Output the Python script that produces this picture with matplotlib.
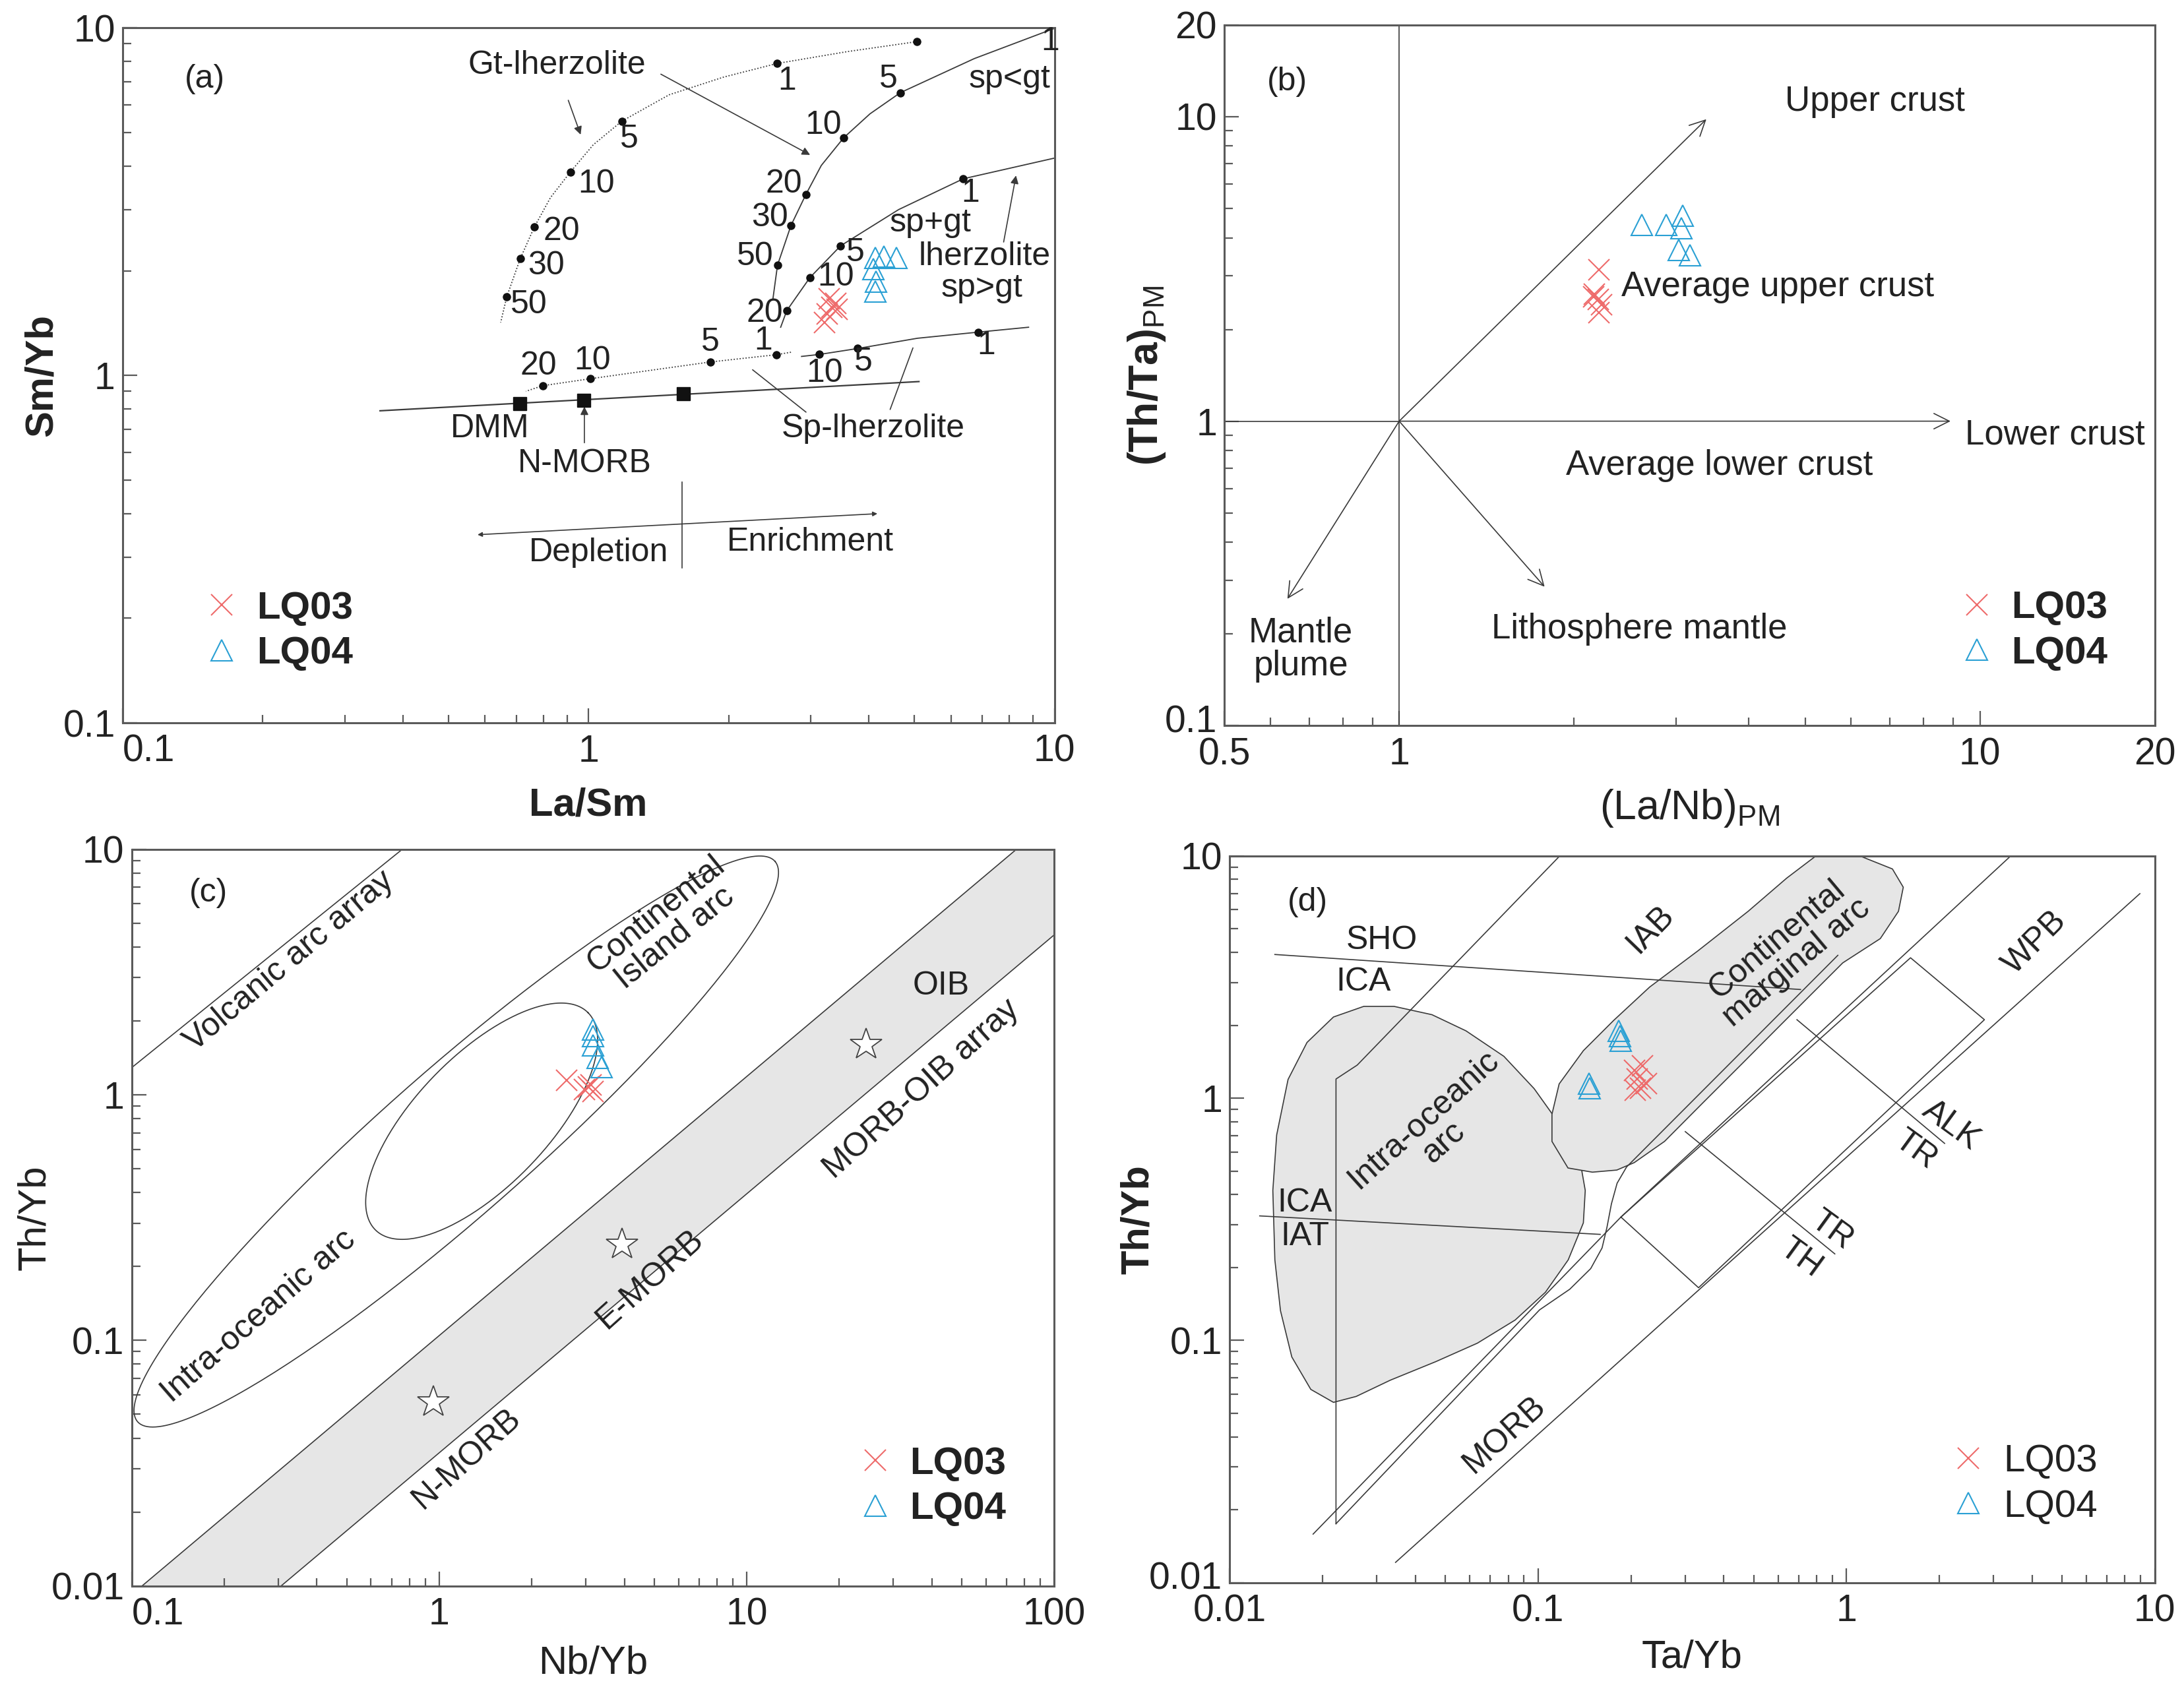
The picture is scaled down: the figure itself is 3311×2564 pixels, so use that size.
import numpy as np
import matplotlib
matplotlib.use("Agg")
import matplotlib.pyplot as plt
from matplotlib.patches import FancyArrowPatch
from matplotlib.transforms import ScaledTranslation
from matplotlib.ticker import FixedLocator, FixedFormatter, LogLocator, NullFormatter

plt.rcParams['font.family'] = ['Liberation Sans', 'DejaVu Sans']
plt.rcParams['mathtext.fontset'] = 'custom'
plt.rcParams['mathtext.rm'] = 'Liberation Sans'
plt.rcParams['font.size'] = 36

LINE = '#3a3a3a'
SPINE = '#5a5a5a'
RED = '#ee6b6b'
BLUE = '#2aa0d4'
GREY = '#e6e6e6'
TXT = 36      # annotation text
NUM = 36      # melting-degree numbers
LEG = 42
LAB = 43

# ---------------- (a) La/Sm vs Sm/Yb ----------------
gt_batch_x = [5.07, 3.60, 2.54, 1.951, 1.490, 1.179, 1.024, 0.9145, 0.829, 0.766, 0.714, 0.668, 0.648]
gt_batch_y = [9.13, 8.55, 7.90, 7.22, 6.42, 5.39, 4.61, 3.85, 3.25, 2.68, 2.17, 1.686, 1.42]
gt_batch_dot_x = [5.07, 2.54, 1.179, 0.9145, 0.766, 0.714, 0.668]
gt_batch_dot_y = [9.13, 7.90, 5.39, 3.85, 2.68, 2.17, 1.686]

gt_frac_x = [9.96, 6.73, 4.67, 4.02, 3.53, 3.16, 2.926, 2.72, 2.545, 2.487]
gt_frac_y = [9.95, 8.16, 6.51, 5.66, 4.83, 4.02, 3.31, 2.70, 2.076, 1.654]
gt_frac_dot_x = [4.67, 3.53, 2.926, 2.72, 2.545]
gt_frac_dot_y = [6.51, 4.83, 3.31, 2.70, 2.076]

spgt_x = [10.0, 6.375, 4.63, 3.476, 2.987, 2.665, 2.585]
spgt_y = [4.22, 3.68, 3.00, 2.36, 1.912, 1.537, 1.376]
spgt_dot_x = [6.375, 3.476, 2.987, 2.665]
spgt_dot_y = [3.68, 2.36, 1.912, 1.537]

sp_frac_x = [8.80, 6.86, 5.08, 3.78, 3.13, 2.866]
sp_frac_y = [1.376, 1.332, 1.279, 1.195, 1.149, 1.134]
sp_frac_dot_x = [6.86, 3.78, 3.13]
sp_frac_dot_y = [1.332, 1.195, 1.149]

sp_batch_x = [2.72, 2.53, 1.825, 1.008, 0.797, 0.734]
sp_batch_y = [1.166, 1.147, 1.093, 0.978, 0.934, 0.900]
sp_batch_dot_x = [2.53, 1.825, 1.008, 0.797]
sp_batch_dot_y = [1.147, 1.093, 0.978, 0.934]

mix_x = [0.357, 5.12]
mix_y = [0.791, 0.960]
source_x = [0.711, 0.978, 1.60]
source_y = [0.830, 0.846, 0.886]

a_lq03_x = [3.21, 3.28, 3.39, 3.42, 3.33, 3.25]
a_lq03_y = [1.42, 1.66, 1.61, 1.55, 1.57, 1.50]
a_lq04_x = [4.12, 4.30, 4.58, 4.08, 4.14, 4.13]
a_lq04_y = [2.18, 2.20, 2.18, 2.02, 1.86, 1.74]

# ---------------- (b) (La/Nb)PM vs (Th/Ta)PM ----------------
b_origin = (1.0, 1.0)
b_tips = {'upper': (3.38, 9.8), 'lower': (8.9, 1.0), 'plume': (0.642, 0.261), 'litho': (1.78, 0.286)}
b_lq03_x = [2.21, 2.17, 2.20, 2.16, 2.23, 2.21]
b_lq03_y = [3.14, 2.61, 2.51, 2.56, 2.41, 2.27]
b_lq04_x = [2.62, 2.88, 3.08, 3.06, 3.03, 3.17]
b_lq04_y = [4.41, 4.41, 4.72, 4.31, 3.65, 3.51]

# ---------------- (c) Nb/Yb vs Th/Yb ----------------
arc_array_x = [0.1, 0.759]
arc_array_y = [1.29, 10.0]
band_upper_x = [0.108, 75.4]
band_upper_y = [0.01, 10.0]
band_lower_x = [0.306, 100.0]
band_lower_y = [0.01, 4.48]
# field ellipses in log10 units: centre, semi-diameter A, conjugate semi-diameter B
big_arc_field = {'c': (0.0555, -0.1902), 'A': (1.037, 1.140), 'B': (0.151, -0.228)}
small_arc_field = {'c': (0.138, -0.1075), 'A': (0.346, 0.442), 'B': (0.150, -0.190)}
ref_star_x = [0.958, 3.94, 24.4]
ref_star_y = [0.0562, 0.2455, 1.60]
c_lq03_x = [2.60, 2.96, 3.11, 3.17, 3.05]
c_lq03_y = [1.145, 1.054, 1.099, 1.03, 1.08]
c_lq04_x = [3.17, 3.17, 3.17, 3.38, 3.27]
c_lq04_y = [1.84, 1.73, 1.59, 1.30, 1.41]

# ---------------- (d) Ta/Yb vs Th/Yb ----------------
iao_x = [0.02169, 0.01831, 0.01589, 0.01460, 0.01400, 0.01379, 0.01419, 0.01545, 0.01780, 0.02169,
         0.02720, 0.03409, 0.04525, 0.05835, 0.07743, 0.09708, 0.1183, 0.1363, 0.1422, 0.1402,
         0.1252, 0.1056, 0.08427, 0.06353, 0.04655, 0.03315, 0.02570]
iao_y = [0.05549, 0.06276, 0.08542, 0.1326, 0.2150, 0.4160, 0.7051, 1.195, 1.699, 2.164,
         2.394, 2.394, 2.212, 1.897, 1.489, 1.095, 0.7700, 0.5660, 0.4160, 0.3057,
         0.2150, 0.1580, 0.1214, 0.0974, 0.0817, 0.0685, 0.0587]
cma_x = [0.8007, 1.124, 1.410, 1.529, 1.475, 1.288, 0.973, 0.776, 0.605, 0.462, 0.344, 0.257, 0.205,
         0.180, 0.150, 0.125, 0.1109, 0.1109, 0.1170, 0.1402, 0.1759, 0.230, 0.330, 0.480, 0.640]
cma_y = [10.06, 9.92, 8.84, 7.43, 5.91, 4.56, 3.62, 2.715, 1.978, 1.401, 0.963, 0.663, 0.542,
         0.505, 0.495, 0.515, 0.663, 0.859, 1.145, 1.571, 2.096, 2.876, 4.06, 5.91, 8.10]
sho_x = [0.014, 0.71]
sho_y = [3.92, 2.81]
iat_x = [0.0125, 0.159]
iat_y = [0.3266, 0.274]
l1_x = [0.0221, 0.0221, 0.0259, 0.1175]
l1_y = [0.0175, 1.20, 1.37, 10.0]
la_x = [0.01863, 0.1856, 3.41]
la_y = [0.01586, 0.3230, 10.0]
lb_x = [0.0221, 0.1011, 0.1267, 0.1481, 0.1612, 0.1672, 0.1729, 0.1804, 0.1936, 0.938]
lb_y = [0.0175, 0.1337, 0.1627, 0.1979, 0.2407, 0.2928, 0.3664, 0.4457, 0.52, 3.89]
lc_x = [0.03448, 8.95]
lc_y = [0.01212, 6.99]
box_x = [0.1856, 0.3314, 2.803, 1.614, 0.1856]
box_y = [0.3230, 0.1650, 2.109, 3.80, 0.3230]
trth_x = [0.3001, 0.917]
trth_y = [0.7278, 0.2276]
alktr_x = [0.691, 2.082]
alktr_y = [2.109, 0.6506]
d_lq03_x = [0.205, 0.218, 0.210, 0.224, 0.206, 0.215]
d_lq03_y = [1.30, 1.36, 1.20, 1.15, 1.08, 1.10]
d_lq04_x = [0.183, 0.184, 0.185, 0.146, 0.147]
d_lq04_y = [1.90, 1.80, 1.73, 1.15, 1.10]


def style_axes(ax, xlim, ylim, xticks, yticks):
    ax.set_xscale('log')
    ax.set_yscale('log')
    ax.set_xlim(*xlim)
    ax.set_ylim(*ylim)
    ax.xaxis.set_major_locator(FixedLocator(xticks))
    ax.xaxis.set_major_formatter(FixedFormatter(['%g' % v for v in xticks]))
    ax.yaxis.set_major_locator(FixedLocator(yticks))
    ax.yaxis.set_major_formatter(FixedFormatter(['%g' % v for v in yticks]))
    for axis in (ax.xaxis, ax.yaxis):
        axis.set_minor_locator(LogLocator(base=10, subs=np.arange(2, 10), numticks=20))
        axis.set_minor_formatter(NullFormatter())
    ax.tick_params(which='both', direction='in', top=False, right=False, color=SPINE, width=1.6)
    ax.tick_params(which='major', length=16, labelsize=41, pad=8, labelcolor='#222')
    ax.tick_params(axis='x', which='major', pad=12)
    ax.tick_params(which='minor', length=9)
    for s in ax.spines.values():
        s.set_color(SPINE)
        s.set_linewidth(2.2)


def lift_lowest_ylabel(ax, points=8):
    lab = ax.get_yticklabels()[0]
    lab.set_transform(lab.get_transform() + ScaledTranslation(0, points / 72, ax.figure.dpi_scale_trans))


def note(ax, x, y, s, size=TXT, rot=0, **kw):
    ax.text(x, y, s, ha='center', va='center', fontsize=size, color='#222', rotation=rot,
            rotation_mode='anchor', linespacing=1.0, **kw)


def plot_samples(ax, x3, y3, x4, y4):
    ax.plot(x3, y3, ls='none', marker='x', ms=23, mew=1.5, color=RED, label='LQ03', zorder=6)
    ax.plot(x4, y4, ls='none', marker='^', ms=23, mew=1.5, mfc='none', mec=BLUE, label='LQ04', zorder=6)


def add_legend(ax, anchor, weight='bold'):
    leg = ax.legend(loc='lower left', bbox_to_anchor=anchor, frameon=False, fontsize=LEG,
                    handlelength=0.9, handletextpad=0.45, labelspacing=0.25, borderpad=0,
                    borderaxespad=0, numpoints=1)
    for t in leg.get_texts():
        t.set_fontweight(weight)
        t.set_color('#222')


def arrow(ax, start, end, style='-|>', scale=18, lw=1.2):
    ax.add_patch(FancyArrowPatch(start, end, arrowstyle=style, color=LINE, lw=lw,
                                 mutation_scale=scale, shrinkA=0, shrinkB=0))


def ellipse(field, n=240):
    t = np.linspace(0, 2 * np.pi, n)
    cx, cy = field['c']
    ax_, ay_ = field['A']
    bx_, by_ = field['B']
    return 10 ** (cx + ax_ * np.cos(t) + bx_ * np.sin(t)), 10 ** (cy + ay_ * np.cos(t) + by_ * np.sin(t))


fig = plt.figure(figsize=(33.11, 25.64), dpi=100)

# ================= panel (a) =================
ax = fig.add_axes([0.0561, 0.5725, 0.4267, 0.4110])
style_axes(ax, (0.1, 10), (0.1, 10), [0.1, 1, 10], [0.1, 1, 10])
lw = 1.3
ax.plot(gt_batch_x, gt_batch_y, ls=(0, (1, 1.5)), color=LINE, lw=lw)
ax.plot(gt_frac_x, gt_frac_y, color=LINE, lw=lw)
ax.plot(spgt_x, spgt_y, color=LINE, lw=lw)
ax.plot(sp_frac_x, sp_frac_y, color=LINE, lw=lw)
ax.plot(sp_batch_x, sp_batch_y, ls=(0, (1, 1.5)), color=LINE, lw=lw)
ax.plot(mix_x, mix_y, color=LINE, lw=lw + 0.3)
for dx, dy in [(gt_batch_dot_x, gt_batch_dot_y), (gt_frac_dot_x, gt_frac_dot_y),
               (spgt_dot_x, spgt_dot_y), (sp_frac_dot_x, sp_frac_dot_y), (sp_batch_dot_x, sp_batch_dot_y)]:
    ax.plot(dx, dy, ls='none', marker='o', ms=8, color='#111')
ax.plot(source_x, source_y, ls='none', marker='s', ms=15, color='#111')

num_labels = [('1', 2.665, 7.04), ('5', 1.224, 4.78), ('10', 1.038, 3.56), ('20', 0.874, 2.60),
              ('30', 0.810, 2.065), ('50', 0.746, 1.595),
              ('1', 9.78, 9.12), ('5', 4.40, 7.11), ('10', 3.19, 5.24), ('20', 2.63, 3.56),
              ('30', 2.45, 2.85), ('50', 2.275, 2.20),
              ('1', 6.61, 3.34), ('5', 3.74, 2.26), ('10', 3.39, 1.918), ('20', 2.39, 1.509),
              ('1', 7.13, 1.22), ('5', 3.89, 1.093), ('10', 3.21, 1.015),
              ('1', 2.37, 1.255), ('5', 1.825, 1.245), ('10', 1.02, 1.103), ('20', 0.782, 1.063)]
for s, x, y in num_labels:
    note(ax, x, y, s, size=NUM)

note(ax, 0.150, 7.11, '(a)')
note(ax, 0.856, 7.80, 'Gt-lherzolite')
note(ax, 8.01, 7.11, 'sp<gt')
note(ax, 5.41, 2.75, 'sp+gt')
note(ax, 7.08, 2.20, 'lherzolite')
note(ax, 6.98, 1.78, 'sp>gt')
note(ax, 0.615, 0.702, 'DMM')
note(ax, 0.982, 0.557, 'N-MORB')
note(ax, 4.08, 0.702, 'Sp-lherzolite')
note(ax, 1.052, 0.309, 'Depletion')
note(ax, 2.995, 0.332, 'Enrichment')

arrow(ax, (0.905, 6.19), (0.962, 4.93))
arrow(ax, (1.43, 7.36), (2.99, 4.31))
arrow(ax, (7.78, 2.42), (8.27, 3.76))
arrow(ax, (0.98, 0.640), (0.98, 0.813))
arrow(ax, (2.93, 0.784), (2.25, 1.038), style='-')
arrow(ax, (4.44, 0.798), (4.97, 1.20), style='-')
arrow(ax, (0.578, 0.348), (4.17, 0.400), style='<|-|>', scale=10)
ax.plot([1.59, 1.59], [0.279, 0.494], color=LINE, lw=1.2)

plot_samples(ax, a_lq03_x, a_lq03_y, a_lq04_x, a_lq04_y)
add_legend(ax, (0.088, 0.074))
ax.set_xlabel('La/Sm', fontsize=LAB, fontweight='bold', color='#222')
ax.set_ylabel('Sm/Yb', fontsize=LAB, fontweight='bold', color='#222')
ax.xaxis.set_label_coords(0.5, -0.092)
ax.yaxis.set_label_coords(-0.0673, 0.5)
ax.get_xticklabels()[0].set_horizontalalignment('left')

# ================= panel (b) =================
ax = fig.add_axes([0.5606, 0.5708, 0.4260, 0.4145])
style_axes(ax, (0.5, 20), (0.1, 20), [0.5, 1, 10, 20], [0.1, 1, 10, 20])
ax.axvline(1.0, color=LINE, lw=1.2)
ax.plot([0.5, b_origin[0]], [1.0, b_origin[1]], color=LINE, lw=1.2)
for key in ['upper', 'lower', 'plume', 'litho']:
    arrow(ax, b_origin, b_tips[key], style='->', scale=42, lw=1.2)
note(ax, 0.641, 13.0, '(b)')
note(ax, 6.59, 11.2, 'Upper crust', size=38)
note(ax, 4.48, 2.76, 'Average upper crust', size=38)
note(ax, 13.45, 0.901, 'Lower crust', size=38)
note(ax, 3.56, 0.715, 'Average lower crust', size=38)
note(ax, 0.677, 0.178, 'Mantle\nplume', size=38)
note(ax, 2.59, 0.208, 'Lithosphere mantle', size=38)
plot_samples(ax, b_lq03_x, b_lq03_y, b_lq04_x, b_lq04_y)
add_legend(ax, (0.790, 0.078))
ax.set_xlabel(r'(La/Nb)$_{\rm PM}$', fontsize=LAB + 2, color='#222')
ax.set_ylabel(r'(Th/Ta)$_{\rm PM}$', fontsize=LAB + 2, fontweight='bold', color='#222')
ax.xaxis.set_label_coords(0.5, -0.088)
ax.yaxis.set_label_coords(-0.0614, 0.5)
lift_lowest_ylabel(ax)

# ================= panel (c) =================
ax = fig.add_axes([0.0603, 0.0621, 0.4224, 0.4357])
style_axes(ax, (0.1, 100), (0.01, 10), [0.1, 1, 10, 100], [0.01, 0.1, 1, 10])
band_x = [band_upper_x[0], band_upper_x[1], band_lower_x[1], band_lower_x[1], band_lower_x[0]]
band_y = [band_upper_y[0], band_upper_y[1], band_upper_y[1], band_lower_y[1], band_lower_y[0]]
ax.fill(band_x, band_y, color=GREY, lw=0, zorder=1)
ax.plot(band_upper_x, band_upper_y, color=LINE, lw=1.2, zorder=2)
ax.plot(band_lower_x, band_lower_y, color=LINE, lw=1.2, zorder=2)
ax.plot(arc_array_x, arc_array_y, color=LINE, lw=1.2)
for fld in (big_arc_field, small_arc_field):
    ex, ey = ellipse(fld)
    ax.plot(ex, ey, color=LINE, lw=1.2)
ax.plot(ref_star_x, ref_star_y, ls='none', marker='*', ms=36, mfc='white', mec='#444', mew=1.3, zorder=4)
note(ax, 0.178, 6.65, '(c)')
note(ax, 0.326, 3.50, 'Volcanic arc array', rot=40)
note(ax, 5.45, 4.86, 'Continental\nIsland arc', rot=39)
note(ax, 0.259, 0.1253, 'Intra-oceanic arc', rot=41)
note(ax, 42.9, 2.77, 'OIB')
note(ax, 37.1, 1.054, 'MORB-OIB array', rot=42)
note(ax, 4.86, 0.178, 'E-MORB', rot=42)
note(ax, 1.227, 0.0331, 'N-MORB', rot=42)
plot_samples(ax, c_lq03_x, c_lq03_y, c_lq04_x, c_lq04_y)
add_legend(ax, (0.787, 0.080))
ax.set_xlabel('Nb/Yb', fontsize=LAB, color='#222')
ax.set_ylabel('Th/Yb', fontsize=LAB, color='#222')
ax.xaxis.set_label_coords(0.5, -0.080)
ax.yaxis.set_label_coords(-0.0854, 0.5)
ax.get_xticklabels()[0].set_horizontalalignment('left')

# ================= panel (d) =================
ax = fig.add_axes([0.5631, 0.0641, 0.4235, 0.4297])
style_axes(ax, (0.01, 10), (0.01, 10), [0.01, 0.1, 1, 10], [0.01, 0.1, 1, 10])
ax.fill(iao_x, iao_y, facecolor=GREY, edgecolor=LINE, lw=1.2, zorder=1)
ax.fill(cma_x, cma_y, facecolor=GREY, edgecolor=LINE, lw=1.2, zorder=1)
for lx, ly in [(sho_x, sho_y), (iat_x, iat_y), (l1_x, l1_y), (la_x, la_y), (lb_x, lb_y),
               (lc_x, lc_y), (box_x, box_y), (trth_x, trth_y), (alktr_x, alktr_y)]:
    ax.plot(lx, ly, color=LINE, lw=1.2, zorder=2, solid_joinstyle='round')
note(ax, 0.0179, 6.46, '(d)')
note(ax, 0.0311, 4.49, 'SHO')
note(ax, 0.0272, 3.02, 'ICA')
note(ax, 0.01754, 0.369, 'ICA')
note(ax, 0.01754, 0.269, 'IAT')
note(ax, 0.2316, 4.99, 'IAB', rot=46)
note(ax, 0.642, 4.04, 'Continental\nmarginal arc', rot=40)
note(ax, 0.0459, 0.732, 'Intra-oceanic\narc', rot=42)
note(ax, 4.09, 4.37, 'WPB', rot=45)
note(ax, 0.0777, 0.0408, 'MORB', rot=42)
note(ax, 2.185, 0.772, 'ALK', rot=-36)
note(ax, 1.682, 0.608, 'TR', rot=-36)
note(ax, 0.900, 0.2836, 'TR', rot=-36)
note(ax, 0.711, 0.218, 'TH', rot=-36)
plot_samples(ax, d_lq03_x, d_lq03_y, d_lq04_x, d_lq04_y)
add_legend(ax, (0.780, 0.080), weight='normal')
ax.set_xlabel('Ta/Yb', fontsize=LAB, color='#222')
ax.set_ylabel('Th/Yb', fontsize=LAB, fontweight='bold', color='#222')
ax.xaxis.set_label_coords(0.5, -0.078)
ax.yaxis.set_label_coords(-0.0798, 0.5)
lift_lowest_ylabel(ax)

fig.savefig('out.png', dpi=100, facecolor='white')
